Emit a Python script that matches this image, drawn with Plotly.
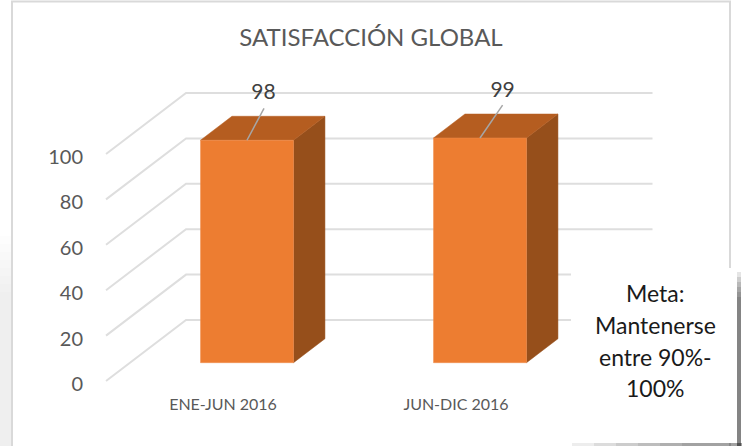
import plotly.graph_objects as go

# --- data ---
categories = ["ENE-JUN 2016", "JUN-DIC 2016"]
values = [98, 99]
y_ticks = [0, 20, 40, 60, 80, 100]
title_text = "SATISFACCIÓN GLOBAL"
meta_lines = ["Meta:", "Mantenerse", "entre 90%-", "100%"]

# --- canvas ---
W, H = 742, 446
M_L, M_B = 100, 63
PX_PER_CAT, PX_PER_VAL = 233.0, 2.27
X0_PX, Y0_PX = 223.0, 381.0

# --- oblique projection of the 3D chart box ---
DEPTH_DX = 80 / PX_PER_CAT
DEPTH_DV = 61 / PX_PER_VAL
BAR_W = 93 / PX_PER_CAT
BAR_D0, BAR_D1 = 0.30, 0.693
FLOOR_L, FLOOR_R = -0.502, 1.5

FRONT, TOP, SIDE = "#ED7D31", "#B55D20", "#964F1B"
GRID = "#DEDEDE"
FRAME = "#D9D9D9"


def proj(x, d, v):
    return x + d * DEPTH_DX, v + d * DEPTH_DV


def face(points, color, edge=None):
    xs, ys = zip(*[proj(*p) for p in points])
    return go.Scatter(x=list(xs) + [xs[0]], y=list(ys) + [ys[0]], mode="lines", fill="toself",
                      fillcolor=color, line=dict(color=edge or color, width=0.5),
                      hoverinfo="skip", showlegend=False)


def seg(points, color, width=2):
    xs, ys = zip(*[proj(*p) for p in points])
    return go.Scatter(x=xs, y=ys, mode="lines", line=dict(color=color, width=width),
                      hoverinfo="skip", showlegend=False)


fig = go.Figure()

# gridlines: side wall then back wall
for t in y_ticks:
    fig.add_trace(seg([(FLOOR_L, 0, t), (FLOOR_L, 1, t), (FLOOR_R, 1, t)], GRID))

leader_d = [(0.073, 14.0), (0.097, 14.5)]
label_d = [(0.071, 20.5), (0.097, 20.5)]

for i, v in enumerate(values):
    l, r = i - BAR_W / 2, i + BAR_W / 2
    fig.add_trace(face([(r, BAR_D0, 0), (r, BAR_D1, 0), (r, BAR_D1, v), (r, BAR_D0, v)], SIDE))
    fig.add_trace(face([(l, BAR_D0, v), (r, BAR_D0, v), (r, BAR_D1, v), (l, BAR_D1, v)], TOP))
    fig.add_trace(face([(l, BAR_D0, 0), (r, BAR_D0, 0), (r, BAR_D0, v), (l, BAR_D0, v)], FRONT, "#F08F4E"))
    bx, by = proj(i, BAR_D0, v)
    fig.add_trace(go.Scatter(x=[bx, bx + leader_d[i][0]], y=[by, by + leader_d[i][1]], mode="lines",
                             line=dict(color="#A6A6A6", width=1.5), hoverinfo="skip", showlegend=False))
    fig.add_trace(go.Scatter(x=[bx + label_d[i][0]], y=[by + label_d[i][1]], mode="text",
                             text=[str(v)], textposition="middle center",
                             textfont=dict(family="Lato", size=21, color="#404040"),
                             hoverinfo="skip", showlegend=False))


def px(x):
    return (x - M_L) / (W - M_L)


def py(y):
    return (H - M_B - y) / (H - M_B)


def rect(x0, y0, x1, y1, color, opacity=1.0, layer="above", line=None):
    return dict(type="rect", xref="paper", yref="paper", x0=px(x0), x1=px(x1), y0=py(y0), y1=py(y1),
                fillcolor=color, opacity=opacity, layer=layer, line=line or dict(width=0))


shapes = []
# soft shadow to the left of the chart frame, fading in downwards
for k in range(8):
    shapes.append(rect(0, 236 + k * 8, 11, 446, "#000000", 0.006, "below"))
# chart frame
shapes.append(dict(type="rect", xref="paper", yref="paper", x0=px(12), x1=px(730), y0=py(1.5), y1=py(470),
                   fillcolor="rgba(0,0,0,0)", line=dict(color=FRAME, width=2), layer="below"))
# shadow of the note box
for k in range(6):
    shapes.append(rect(737, 272 + k * 5, 741, 446, "#000000", 0.10))
for k in range(6):
    shapes.append(rect(572 + k * 22, 443, 742, 446, "#000000", 0.07))
# body of the note box
shapes.append(rect(571, 268, 737, 443, "#FFFFFF"))

meta_y = [293, 325, 357, 388]
annotations = [
    dict(text=t, xref="paper", yref="paper", x=px(655), y=py(yy), showarrow=False,
         xanchor="center", yanchor="middle", font=dict(family="Lato", size=23, color="#1A1A1A"))
    for t, yy in zip(meta_lines, meta_y)
]

fig.update_layout(
    width=W, height=H, autosize=False,
    margin=dict(l=M_L, r=0, t=0, b=M_B, pad=0),
    paper_bgcolor="white", plot_bgcolor="rgba(0,0,0,0)",
    showlegend=False, shapes=shapes, annotations=annotations,
    title=dict(text=title_text, x=371 / W, xanchor="center", y=1 - 38 / H, yanchor="middle",
               font=dict(family="Lato", size=24, color="#595959")),
    xaxis=dict(range=[(M_L - X0_PX) / PX_PER_CAT, (W - X0_PX) / PX_PER_CAT],
               tickmode="array", tickvals=list(range(len(categories))), ticktext=categories,
               tickfont=dict(family="Lato", size=16, color="#595959"),
               showgrid=False, zeroline=False, showline=False, ticks="", ticklabelstandoff=10),
    yaxis=dict(range=[-(H - M_B - Y0_PX) / PX_PER_VAL, Y0_PX / PX_PER_VAL],
               tickmode="array", tickvals=y_ticks, ticktext=[str(t) for t in y_ticks],
               tickfont=dict(family="Lato", size=20, color="#595959"),
               showgrid=False, zeroline=False, showline=False, ticks="", ticklabelstandoff=16,
               ticklabelshift=3),
)

fig.write_html("out.html", config=dict(displayModeBar=False),
               post_script="document.body.style.margin='0';document.body.style.overflow='hidden';")
